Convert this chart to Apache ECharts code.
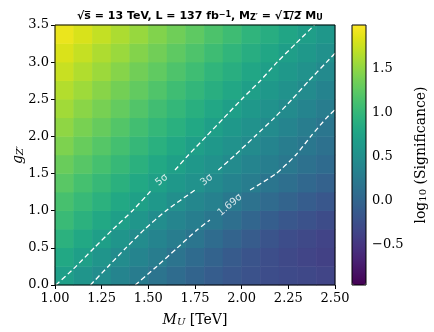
<!DOCTYPE html>
<html>
<head>
<meta charset="utf-8">
<script src="https://cdn.jsdelivr.net/npm/echarts@6/dist/echarts.min.js"></script>
<style>
html, body { margin: 0; padding: 0; background: #fff; }
#chart { width: 434px; height: 332px; }
</style>
</head>
<body>
<div id="chart"></div>
<script>
// cell centres of the map (M_U in TeV, g_Z')
var massCells = ['1.05', '1.15', '1.25', '1.35', '1.45', '1.55', '1.65', '1.75',
    '1.85', '1.95', '2.05', '2.15', '2.25', '2.35', '2.45'];
var couplingCells = ['0.125', '0.375', '0.625', '0.875', '1.125', '1.375', '1.625',
    '1.875', '2.125', '2.375', '2.625', '2.875', '3.125', '3.375'];

// log10(significance), one row per coupling cell, bottom row first
var logSig = [
    [0.70, 0.58, 0.47, 0.37, 0.27, 0.17, 0.08, -0.01, -0.09, -0.16, -0.22, -0.27, -0.30, -0.33, -0.36],
    [0.82, 0.71, 0.58, 0.46, 0.37, 0.28, 0.17, 0.07, -0.03, -0.12, -0.20, -0.26, -0.32, -0.36, -0.40],
    [0.93, 0.82, 0.71, 0.58, 0.46, 0.37, 0.28, 0.19, 0.08, -0.02, -0.11, -0.20, -0.27, -0.32, -0.37],
    [1.04, 0.93, 0.82, 0.71, 0.59, 0.47, 0.38, 0.30, 0.21, 0.11, 0.01, -0.08, -0.16, -0.22, -0.28],
    [1.13, 1.03, 0.93, 0.82, 0.72, 0.61, 0.50, 0.41, 0.33, 0.24, 0.15, 0.06, -0.02, -0.10, -0.16],
    [1.23, 1.12, 1.02, 0.92, 0.82, 0.72, 0.62, 0.53, 0.44, 0.36, 0.28, 0.19, 0.11, 0.03, -0.04],
    [1.32, 1.22, 1.12, 1.02, 0.92, 0.82, 0.72, 0.62, 0.53, 0.45, 0.37, 0.30, 0.22, 0.14, 0.07],
    [1.42, 1.31, 1.21, 1.11, 1.01, 0.91, 0.81, 0.71, 0.62, 0.54, 0.45, 0.37, 0.29, 0.21, 0.14],
    [1.50, 1.40, 1.30, 1.20, 1.10, 1.00, 0.91, 0.81, 0.71, 0.62, 0.54, 0.45, 0.37, 0.28, 0.20],
    [1.58, 1.48, 1.39, 1.29, 1.19, 1.09, 1.00, 0.90, 0.80, 0.70, 0.62, 0.54, 0.45, 0.37, 0.28],
    [1.66, 1.57, 1.47, 1.37, 1.28, 1.18, 1.08, 0.99, 0.89, 0.80, 0.70, 0.62, 0.53, 0.45, 0.36],
    [1.75, 1.65, 1.56, 1.46, 1.36, 1.27, 1.17, 1.08, 0.98, 0.89, 0.79, 0.70, 0.61, 0.53, 0.44],
    [1.83, 1.74, 1.64, 1.55, 1.45, 1.36, 1.26, 1.17, 1.07, 0.98, 0.88, 0.79, 0.69, 0.61, 0.52],
    [1.91, 1.82, 1.73, 1.63, 1.54, 1.44, 1.35, 1.26, 1.16, 1.07, 0.97, 0.88, 0.78, 0.69, 0.60]
];

// contour lines, split where the inline labels sit
var c5Low = [[1.005, 0], [1.10, 0.22], [1.21, 0.50], [1.31, 0.75], [1.415, 1.0], [1.518, 1.279]];
var c5High = [[1.643, 1.548], [1.715, 1.75], [1.81, 2.0], [1.905, 2.25], [2.0, 2.5], [2.10, 2.75],
    [2.19, 3.0], [2.29, 3.25], [2.39, 3.5]];
var c3Low = [[1.19, 0], [1.285, 0.25], [1.38, 0.5], [1.48, 0.75], [1.595, 1.0], [1.75, 1.279]];
var c3High = [[1.875, 1.548], [1.965, 1.75], [2.07, 2.0], [2.175, 2.25], [2.27, 2.5], [2.36, 2.75],
    [2.455, 3.0], [2.5, 3.12]];
var c169Low = [[1.43, 0], [1.545, 0.25], [1.655, 0.5], [1.765, 0.75], [1.83, 0.875]];
var c169High = [[2.045, 1.279], [2.185, 1.5], [2.29, 1.75], [2.37, 2.0], [2.455, 2.25], [2.5, 2.36]];
var contourLabels = [[1.572, 1.413, '5σ'], [1.813, 1.413, '3σ'], [1.9375, 1.077, '1.69σ']];

var colorbarTicks = [-0.5, 0, 0.5, 1, 1.5];

var viridis = ['#440154', '#471365', '#482475', '#463480', '#414487', '#3b528b', '#355f8d',
    '#2f6c8e', '#2a788e', '#25848e', '#21918c', '#1e9c89', '#22a884', '#2fb47c', '#44bf70',
    '#5ec962', '#7ad151', '#9bd93c', '#bddf26', '#dfe318', '#fde725'];

var heatData = [];
for (var j = 0; j < couplingCells.length; j++) {
    for (var i = 0; i < massCells.length; i++) {
        heatData.push([i, j, logSig[j][i]]);
    }
}

var serif = 'DejaVu Serif';

function contour(data) {
    return {
        type: 'line',
        xAxisIndex: 1,
        yAxisIndex: 1,
        data: data,
        symbol: 'none',
        smooth: 0.2,
        silent: true,
        z: 5,
        lineStyle: { color: '#fff', width: 1.3, type: [5, 3] }
    };
}

var myChart = echarts.init(document.getElementById('chart'));

var option = {
    animation: false,
    title: {
        left: 72,
        top: 6,
        text: '{b|√s̅ = 13 TeV, L = 137 fb}{sup|−1}{b|, M}{sub|Z′}{b| = √1̅/̅2̅ M}{sub|U}',
        textStyle: {
            rich: {
                b: { fontFamily: 'DejaVu Sans', fontWeight: 'bold', fontSize: 11, color: '#000' },
                sup: { fontFamily: 'DejaVu Sans', fontWeight: 'bold', fontSize: 8, color: '#000', verticalAlign: 'top' },
                sub: { fontFamily: 'DejaVu Sans', fontWeight: 'bold', fontSize: 8, color: '#000', verticalAlign: 'bottom' }
            }
        }
    },
    grid: [
        { left: 55, right: 99, top: 25, bottom: 47, outerBoundsMode: 'none' },
        { left: 55, right: 99, top: 25, bottom: 47, outerBoundsMode: 'none', show: true, z: 10,
          backgroundColor: 'transparent', borderColor: '#000', borderWidth: 1 },
        { left: 352, width: 14, top: 25, bottom: 47, outerBoundsMode: 'none', show: true, z: 10,
          backgroundColor: 'transparent', borderColor: '#000', borderWidth: 1 }
    ],
    xAxis: [
        { type: 'category', gridIndex: 0, data: massCells, show: false },
        {
            type: 'value', gridIndex: 1, min: 1, max: 2.5, interval: 0.25,
            axisLine: { show: false },
            splitLine: { show: false },
            axisTick: { show: true, length: 4, lineStyle: { color: '#000' } },
            axisLabel: {
                margin: 7,
                fontFamily: serif, fontSize: 13, color: '#000',
                formatter: function (v) { return v.toFixed(2); }
            },
            name: '{i|M}{s|U}{r| [TeV]}',
            nameLocation: 'middle',
            nameGap: 28,
            nameTextStyle: {
                rich: {
                    i: { fontFamily: serif, fontStyle: 'italic', fontSize: 14, color: '#000' },
                    s: { fontFamily: serif, fontStyle: 'italic', fontSize: 10, color: '#000', verticalAlign: 'bottom' },
                    r: { fontFamily: serif, fontSize: 14, color: '#000' }
                }
            }
        },
        { type: 'value', gridIndex: 2, show: false, min: 0, max: 1 }
    ],
    yAxis: [
        { type: 'category', gridIndex: 0, data: couplingCells, show: false },
        {
            type: 'value', gridIndex: 1, min: 0, max: 3.5, interval: 0.5,
            axisLine: { show: false },
            splitLine: { show: false },
            axisTick: { show: true, length: 4, lineStyle: { color: '#000' } },
            axisLabel: {
                margin: 6,
                fontFamily: serif, fontSize: 13, color: '#000',
                formatter: function (v) { return v.toFixed(1); }
            },
            name: '{i|g}{s|Z′}',
            nameLocation: 'middle',
            nameGap: 30,
            nameMoveOverlap: false,
            nameRotate: 90,
            nameTextStyle: {
                rich: {
                    i: { fontFamily: serif, fontStyle: 'italic', fontSize: 14, color: '#000' },
                    s: { fontFamily: serif, fontStyle: 'italic', fontSize: 10, color: '#000', verticalAlign: 'bottom' }
                }
            }
        },
        {
            type: 'value', gridIndex: 2, position: 'right', min: -0.96, max: 2.0,
            axisLine: { show: false },
            splitLine: { show: false },
            axisTick: { show: true, length: 4, customValues: colorbarTicks, lineStyle: { color: '#000' } },
            axisLabel: {
                margin: 6,
                customValues: colorbarTicks,
                fontFamily: serif, fontSize: 13, color: '#000',
                formatter: function (v) {
                    return v < 0 ? '−' + Math.abs(v).toFixed(1) : v.toFixed(1);
                }
            },
            name: '{r|log}{s|10}{r| (Significance)}',
            nameLocation: 'middle',
            nameGap: 48,
            nameRotate: 90,
            nameTextStyle: {
                rich: {
                    r: { fontFamily: serif, fontSize: 14, color: '#000' },
                    s: { fontFamily: serif, fontSize: 10, color: '#000', verticalAlign: 'bottom' }
                }
            }
        }
    ],
    visualMap: {
        type: 'continuous',
        seriesIndex: 0,
        min: -0.96,
        max: 2.0,
        calculable: false,
        orient: 'vertical',
        left: 352,
        top: 25,
        padding: 0,
        itemWidth: 14,
        itemHeight: 260,
        text: null,
        inRange: { color: viridis }
    },
    series: [
        {
            type: 'heatmap',
            xAxisIndex: 0,
            yAxisIndex: 0,
            data: heatData,
            silent: true,
            itemStyle: { borderWidth: 0 }
        },
        contour(c5Low), contour(c5High),
        contour(c3Low), contour(c3High),
        contour(c169Low), contour(c169High),
        {
            type: 'scatter',
            xAxisIndex: 1,
            yAxisIndex: 1,
            data: contourLabels,
            symbolSize: 0,
            silent: true,
            z: 6,
            label: {
                show: true,
                position: 'inside',
                rotate: 40,
                color: '#fff',
                fontFamily: 'DejaVu Sans',
                fontSize: 10,
                formatter: function (p) { return p.value[2]; }
            }
        }
    ]
};

myChart.setOption(option);
</script>
</body>
</html>
